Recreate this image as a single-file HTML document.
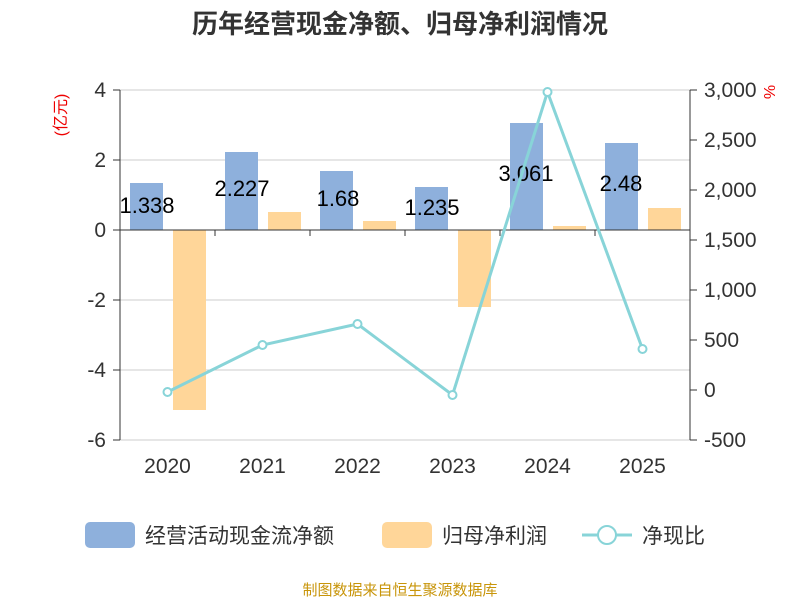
<!DOCTYPE html>
<html><head><meta charset="utf-8"><style>
body{margin:0;background:#fff;}
svg text{font-family:"Liberation Sans","Noto Sans CJK SC",sans-serif;}
</style></head><body>
<svg width="800" height="600" viewBox="0 0 800 600" xmlns="http://www.w3.org/2000/svg">
<text x="400" y="33" text-anchor="middle" font-size="26" font-weight="bold" fill="#333">历年经营现金净额、归母净利润情况</text>
<g stroke="#ccc" stroke-width="1">
<line x1="120" y1="90" x2="690" y2="90"/><line x1="120" y1="160" x2="690" y2="160"/>
<line x1="120" y1="300" x2="690" y2="300"/><line x1="120" y1="370" x2="690" y2="370"/>
<line x1="120" y1="440" x2="690" y2="440"/>
</g>
<g fill="#8eb0dc">
<rect x="130" y="183" width="33" height="47"/>
<rect x="225" y="152" width="33" height="78"/>
<rect x="320" y="171" width="33" height="59"/>
<rect x="415" y="187" width="33" height="43"/>
<rect x="510" y="123" width="33" height="107"/>
<rect x="605" y="143" width="33" height="87"/>
</g>
<g fill="#ffd699">
<rect x="173" y="230" width="33" height="180"/>
<rect x="268" y="212" width="33" height="18"/>
<rect x="363" y="221" width="33" height="9"/>
<rect x="458" y="230" width="33" height="77"/>
<rect x="553" y="226" width="33" height="4"/>
<rect x="648" y="208" width="33" height="22"/>
</g>
<g stroke="#333" stroke-width="1">
<line x1="120" y1="90" x2="120" y2="440"/><line x1="690" y1="90" x2="690" y2="440"/>
<line x1="120" y1="230" x2="690" y2="230"/>
<line x1="113" y1="90" x2="120" y2="90"/><line x1="113" y1="160" x2="120" y2="160"/><line x1="113" y1="230" x2="120" y2="230"/><line x1="113" y1="300" x2="120" y2="300"/><line x1="113" y1="370" x2="120" y2="370"/><line x1="113" y1="440" x2="120" y2="440"/>
<line x1="690" y1="90" x2="697" y2="90"/><line x1="690" y1="140" x2="697" y2="140"/><line x1="690" y1="190" x2="697" y2="190"/><line x1="690" y1="240" x2="697" y2="240"/><line x1="690" y1="290" x2="697" y2="290"/><line x1="690" y1="340" x2="697" y2="340"/><line x1="690" y1="390" x2="697" y2="390"/><line x1="690" y1="440" x2="697" y2="440"/>
<line x1="215" y1="230" x2="215" y2="236"/><line x1="310" y1="230" x2="310" y2="236"/><line x1="405" y1="230" x2="405" y2="236"/><line x1="500" y1="230" x2="500" y2="236"/><line x1="595" y1="230" x2="595" y2="236"/>
</g>
<g font-size="22" fill="#000" text-anchor="middle">
<text x="147" y="213">1.338</text><text x="242" y="196">2.227</text><text x="338" y="206">1.68</text><text x="432" y="215">1.235</text><text x="526" y="181">3.061</text><text x="621" y="191">2.48</text>
</g>
<polyline points="167.5,392 262.5,345 357.5,324 452.5,395 547.5,92 642.5,349" fill="none" stroke="#88d4d8" stroke-width="3"/>
<g fill="#fff" stroke="#88d4d8" stroke-width="2">
<circle cx="167.5" cy="392" r="4"/><circle cx="262.5" cy="345" r="4"/><circle cx="357.5" cy="324" r="4"/><circle cx="452.5" cy="395" r="4"/><circle cx="547.5" cy="92" r="4"/><circle cx="642.5" cy="349" r="4"/>
</g>
<g font-size="21" fill="#333" text-anchor="end">
<text x="106" y="97">4</text><text x="106" y="167">2</text><text x="106" y="237">0</text><text x="106" y="307">-2</text><text x="106" y="377">-4</text><text x="106" y="447">-6</text>
</g>
<g font-size="21" fill="#333" text-anchor="start">
<text x="704" y="97">3,000</text><text x="704" y="147">2,500</text><text x="704" y="197">2,000</text><text x="704" y="247">1,500</text><text x="704" y="297">1,000</text><text x="704" y="347">500</text><text x="704" y="397">0</text><text x="704" y="447">-500</text>
</g>
<g font-size="21" fill="#333" text-anchor="middle">
<text x="167.5" y="473">2020</text><text x="262.5" y="473">2021</text><text x="357.5" y="473">2022</text><text x="452.5" y="473">2023</text><text x="547.5" y="473">2024</text><text x="642.5" y="473">2025</text>
</g>
<text transform="translate(66,115) rotate(-90)" font-size="16" fill="#e00" text-anchor="middle">(亿元)</text>
<text transform="translate(764,92) rotate(90)" font-size="16" fill="#e00" text-anchor="middle">%</text>
<rect x="85" y="522" width="50" height="26" rx="5" fill="#8eb0dc"/>
<text x="145" y="543" font-size="21" fill="#333">经营活动现金流净额</text>
<rect x="382" y="522" width="50" height="26" rx="5" fill="#ffd699"/>
<text x="442" y="543" font-size="21" fill="#333">归母净利润</text>
<line x1="582" y1="535" x2="632" y2="535" stroke="#88d4d8" stroke-width="3"/>
<circle cx="607" cy="535" r="9" fill="#fff" stroke="#88d4d8" stroke-width="2"/>
<text x="642" y="543" font-size="21" fill="#333">净现比</text>
<text x="400" y="595" font-size="15" fill="#c8950a" text-anchor="middle">制图数据来自恒生聚源数据库</text>
</svg>
</body></html>
